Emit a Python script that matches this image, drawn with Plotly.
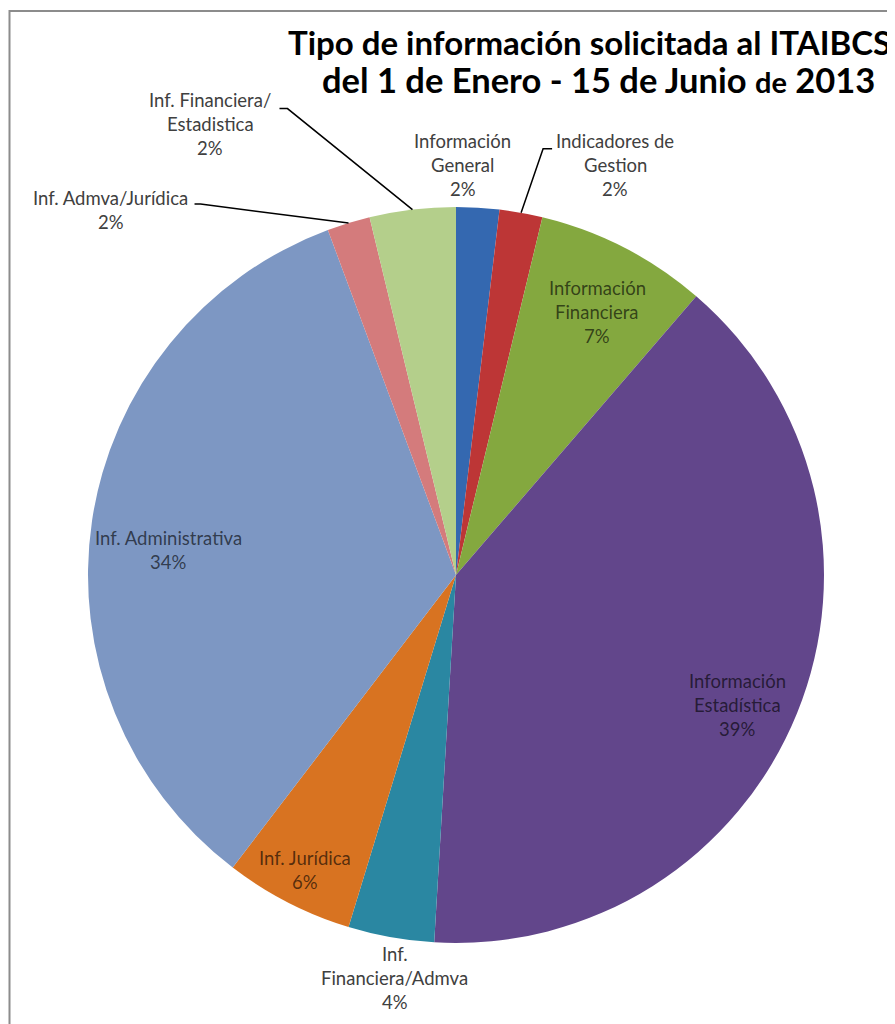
import math
import plotly.graph_objects as go

# data (counts; percentages as printed on the chart)
categories = [
    "Información General",
    "Indicadores de Gestion",
    "Información Financiera",
    "Información Estadística",
    "Inf. Financiera/Admva",
    "Inf. Jurídica",
    "Inf. Administrativa",
    "Inf. Admva/Jurídica",
    "Inf. Financiera/Estadistica",
]
requests = [1, 1, 4, 21, 2, 3, 18, 1, 2]
pct_labels = ["2%", "2%", "7%", "39%", "4%", "6%", "34%", "2%", "2%"]
label_lines = [
    ["Información", "General"],
    ["Indicadores de", "Gestion"],
    ["Información", "Financiera"],
    ["Información", "Estadística"],
    ["Inf.", "Financiera/Admva"],
    ["Inf. Jurídica"],
    ["Inf. Administrativa"],
    ["Inf. Admva/Jurídica"],
    ["Inf. Financiera/", "Estadistica"],
]

colors = [
    "#3468b0",
    "#bd3636",
    "#84a83f",
    "#62468b",
    "#2a87a2",
    "#d87321",
    "#7d97c3",
    "#d47b7c",
    "#b4cf8b",
]

# page body has an 8px margin, so the figure is drawn 8px in from the window edge
OFF = 8
FW, FH = 895 - OFF, 1024 - OFF
CX, CY, R = 456, 575, 368  # pie centre / radius in window pixels

# label placement: radius factor, pixel shift, inside/outside, leader (elbow, stub) rel. to label
label_style = [
    dict(rf=1.0, dx=-15, dy=-43, inside=False, leader=None),
    dict(rf=1.0, dx=94, dy=-48, inside=False, leader=((-72, -16), (-63, -16))),
    dict(rf=0.81, dx=5, dy=2, inside=True, leader=None),
    dict(rf=0.84, dx=-5, dy=14, inside=True, leader=None),
    dict(rf=1.0, dx=4, dy=41, inside=False, leader=None),
    dict(rf=0.9, dx=0, dy=0, inside=True, leader=None),
    dict(rf=0.78, dx=-4, dy=17, inside=True, leader=None),
    dict(rf=1.0, dx=-238, dy=-13, inside=False, leader=((90, -6), (84, -6))),
    dict(rf=1.0, dx=-202, dy=-86, inside=False, leader=((77, -15), (69, -15))),
]


def px(x, y):
    return (x - OFF) / FW, 1 - (y - OFF) / FH


fig = go.Figure()

fig.add_trace(
    go.Pie(
        labels=categories,
        values=requests,
        sort=False,
        direction="clockwise",
        rotation=0,
        textinfo="none",
        hoverinfo="label+value+percent",
        marker=dict(colors=colors, line=dict(width=0)),
        domain=dict(
            x=[(CX - OFF - R) / FW, (CX - OFF + R) / FW],
            y=[(FH - (CY - OFF) - R) / FH, (FH - (CY - OFF) + R) / FH],
        ),
        showlegend=False,
    )
)

total = sum(requests)
cum = 0
annotations = []
shapes = []
for i, v in enumerate(requests):
    mid = (cum + v / 2) / total * 2 * math.pi
    cum += v
    st = label_style[i]
    ex = CX + R * math.sin(mid)
    ey = CY - R * math.cos(mid)
    lx = CX + st["rf"] * R * math.sin(mid) + st["dx"]
    ly = CY - st["rf"] * R * math.cos(mid) + st["dy"]
    lines = label_lines[i] + [pct_labels[i]]
    n = len(lines)
    color = "rgba(0,0,0,0.62)" if st["inside"] else "#404040"
    for k, t in enumerate(lines):
        yy = ly + (k - (n - 1) / 2) * 24
        x0, y0 = px(lx, yy)
        annotations.append(
            dict(
                x=x0, y=y0, xref="paper", yref="paper",
                text=t, showarrow=False,
                xanchor="center", yanchor="middle",
                font=dict(family="Lato", size=18.5, color=color),
            )
        )
    if st["leader"]:
        (e1x, e1y), (e2x, e2y) = st["leader"]
        pts = [(ex, ey), (lx + e1x, ly + e1y), (lx + e2x, ly + e2y)]
        path = "M " + " L ".join(
            f"{px(a, b)[0]:.5f},{px(a, b)[1]:.5f}" for a, b in pts
        )
        shapes.append(
            dict(type="path", xref="paper", yref="paper", path=path,
                 line=dict(color="#000000", width=1.5))
        )

# chart border (cut at right and bottom in the original)
bx0, by1 = px(9.5, 11)
shapes.append(
    dict(type="rect", xref="paper", yref="paper",
         x0=bx0, x1=1.02, y0=-0.02, y1=by1,
         line=dict(color="#8c8c8c", width=2))
)

# title
tx, ty = px(589, 42)
annotations.append(
    dict(x=tx, y=ty, xref="paper", yref="paper", showarrow=False,
         text="<b>Tipo de información solicitada al ITAIBCS</b>",
         xanchor="center", yanchor="middle",
         font=dict(family="Lato", size=33, color="#000000"))
)
tx, ty = px(598, 80)
annotations.append(
    dict(x=tx, y=ty, xref="paper", yref="paper", showarrow=False,
         text="<b>del 1 de Enero - 15 de Junio <span style='font-size:29px'>de</span> 2013</b>",
         xanchor="center", yanchor="middle",
         font=dict(family="Lato", size=34.5, color="#000000"))
)

fig.update_layout(
    width=FW,
    height=FH,
    margin=dict(l=0, r=0, t=0, b=0),
    paper_bgcolor="white",
    plot_bgcolor="white",
    annotations=annotations,
    shapes=shapes,
)

fig.write_html("out.html")
